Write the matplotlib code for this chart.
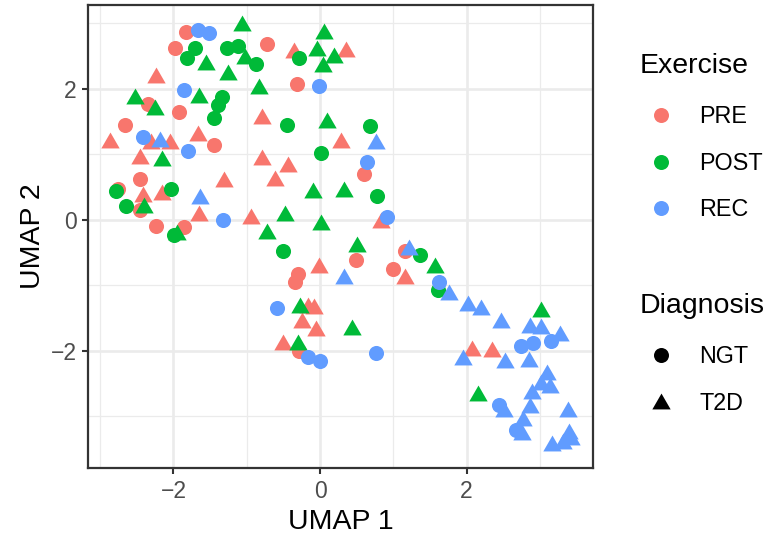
import numpy as np
import matplotlib
matplotlib.use('Agg')
import matplotlib.pyplot as plt
from matplotlib.lines import Line2D

plt.rcParams['font.family'] = ['Liberation Sans', 'DejaVu Sans']

# UMAP coordinates, by exercise group and diagnosis
pre_ngt_x = [-1.83, -1.98, -0.73, -2.34, -1.92, -2.66, -1.45, -0.31, -2.46, -2.75,
             -2.45, -2.24, -1.86, 0.60, 0.49, 1.16, 1.00, -0.30, -0.34, -0.28]
pre_ngt_y = [2.87, 2.63, 2.68, 1.77, 1.65, 1.45, 1.15, 2.08, 0.62, 0.48,
             0.15, -0.09, -0.10, 0.70, -0.61, -0.48, -0.75, -0.82, -0.94, -2.00]
pre_t2d_x = [-2.24, -0.79, -2.86, -2.30, -2.05, -1.67, -2.45, -0.79, -0.35, 0.35,
             0.29, -0.43, -0.61, -1.31, -2.42, -2.15, -1.65, -0.94, 0.83, -0.02,
             1.16, -0.16, -0.08, -0.24, -0.06, -0.51, 2.07, 2.34]
pre_t2d_y = [2.21, 1.59, 1.22, 1.21, 1.20, 1.33, 0.97, 0.96, 2.60, 2.61,
             1.22, 0.85, 0.64, 0.62, 0.39, 0.43, 0.11, 0.06, 0.00, -0.69,
             -0.86, -1.30, -1.32, -1.52, -1.65, -1.86, -1.95, -1.97]

post_ngt_x = [-1.70, -1.82, -1.27, -1.12, -0.87, -1.34, -1.39, -1.44, -0.29, -0.45,
              0.68, 0.02, 0.78, -2.78, -2.03, -2.64, -1.99, -0.51, 1.36, 1.61]
post_ngt_y = [2.62, 2.47, 2.63, 2.66, 2.38, 1.88, 1.76, 1.55, 2.48, 1.45,
              1.44, 1.02, 0.36, 0.44, 0.47, 0.21, -0.23, -0.47, -0.53, -1.07]
post_t2d_x = [-1.06, -1.56, -1.25, -1.02, -0.83, -2.53, -2.25, -1.65, -2.15, -2.40,
              -1.95, 0.06, -0.04, 0.19, 0.04, 0.09, -0.09, 0.33, -0.48, 0.01,
              -0.73, 0.51, 1.57, -0.27, 0.44, -0.30, 3.01, 2.15]
post_t2d_y = [3.00, 2.41, 2.26, 2.51, 2.04, 1.89, 1.73, 1.91, 0.94, 0.23,
              -0.18, 2.88, 2.62, 2.52, 2.38, 1.53, 0.46, 0.48, 0.11, -0.03,
              -0.17, -0.36, -0.69, -1.30, -1.64, -1.87, -1.36, -2.64]

rec_ngt_x = [-1.66, -1.51, -1.86, -0.01, -2.41, -1.80, -1.33, 0.64, 0.92, 1.62,
             -0.59, -0.17, 0.00, 0.77, 2.74, 2.91, 3.15, 2.44, 2.67]
rec_ngt_y = [2.90, 2.85, 1.99, 2.05, 1.26, 1.06, 0.00, 0.89, 0.04, -0.95,
             -1.35, -2.09, -2.15, -2.03, -1.92, -1.88, -1.85, -2.82, -3.20]
rec_t2d_x = [-2.18, -1.64, 0.77, 1.21, 0.33, 1.76, 2.02, 2.19, 2.47, 2.87,
             3.01, 3.27, 1.95, 2.53, 2.85, 3.09, 3.02, 3.14, 2.89, 2.87,
             2.51, 3.38, 2.77, 2.76, 3.17, 3.31, 3.40, 3.43]
rec_t2d_y = [1.23, 0.36, 1.21, -0.41, -0.86, -1.10, -1.27, -1.33, -1.53, -1.61,
             -1.62, -1.72, -2.09, -2.14, -2.12, -2.32, -2.48, -2.52, -2.61, -2.83,
             -2.89, -2.89, -3.03, -3.23, -3.41, -3.37, -3.22, -3.32]

exercise_levels = ['PRE', 'POST', 'REC']
diagnosis_levels = ['NGT', 'T2D']
colours = {'PRE': '#F8766D', 'POST': '#00BA38', 'REC': '#619CFF'}

# equilateral triangle, bbox-centred (like ggplot shape 17)
tri = [(0, 0.75), (-0.866, -0.75), (0.866, -0.75), (0, 0.75)]
shapes = {'NGT': 'o', 'T2D': tri}
sizes = {'NGT': 118, 'T2D': 175}

groups = [
    ('PRE', 'NGT', pre_ngt_x, pre_ngt_y), ('PRE', 'T2D', pre_t2d_x, pre_t2d_y),
    ('POST', 'NGT', post_ngt_x, post_ngt_y), ('POST', 'T2D', post_t2d_x, post_t2d_y),
    ('REC', 'NGT', rec_ngt_x, rec_ngt_y), ('REC', 'T2D', rec_t2d_x, rec_t2d_y),
]

W, H = 771, 542
fig = plt.figure(figsize=(W/100, H/100), dpi=100)
ax = fig.add_axes([88.3/W, 1 - 467.7/H, (593 - 88.3)/W, (467.7 - 5)/H])

for ex, dg, xs, ys in groups:
    ax.scatter(xs, ys, s=sizes[dg], marker=shapes[dg], c=colours[ex],
               linewidths=0, zorder=3)

ax.set_xlim(-3.161, 3.724)
ax.set_ylim(-3.782, 3.282)
ax.set_xticks([-2, 0, 2])
ax.set_yticks([-2, 0, 2])
ax.set_xticks([-3, -1, 1, 3], minor=True)
ax.set_yticks([-3, -1, 1, 3], minor=True)
ax.grid(which='major', color='#EBEBEB', linewidth=1.9, zorder=0)
ax.grid(which='minor', color='#EBEBEB', linewidth=0.9, zorder=0)
ax.set_axisbelow(True)
ax.tick_params(which='minor', length=0)
ax.tick_params(which='major', length=4.5, width=1.5, color='#333333',
               labelsize=16.5, labelcolor='#4D4D4D', pad=4)
for sp in ax.spines.values():
    sp.set_color('#333333')
    sp.set_linewidth(1.6)

ax.set_xlabel('UMAP 1', fontsize=20.5, labelpad=5)
ax.set_ylabel('UMAP 2', fontsize=20.5, labelpad=3.5)

# legend titles drawn as text so the gap to the keys matches ggplot
fig.text(640/W, 1 - 73/H, 'Exercise', fontsize=20.5, ha='left', va='baseline')
fig.text(640/W, 1 - 313/H, 'Diagnosis', fontsize=20.5, ha='left', va='baseline')

ex_handles = [Line2D([], [], linestyle='none', marker='o', markersize=10.8,
                     markerfacecolor=colours[e], markeredgewidth=0) for e in exercise_levels]
dg_handles = [Line2D([], [], linestyle='none', marker=shapes[d],
                     markersize=10.8 if d == 'NGT' else 13.2,
                     markerfacecolor='black', markeredgewidth=0) for d in diagnosis_levels]

fs = 16.8
em = fs * 100 / 72
leg_kw = dict(loc='upper left', frameon=False, fontsize=fs, labelspacing=1.0,
              handlelength=1.0, handletextpad=1.13, borderpad=0, borderaxespad=0)
leg1 = fig.legend(ex_handles, exercise_levels,
                  bbox_to_anchor=((661 - em/2)/W, 1 - (117 - em/2)/H), **leg_kw)
leg2 = fig.legend(dg_handles, diagnosis_levels,
                  bbox_to_anchor=((661 - em/2)/W, 1 - (357 - em/2)/H), **leg_kw)

fig.savefig('out.png', dpi=100)
